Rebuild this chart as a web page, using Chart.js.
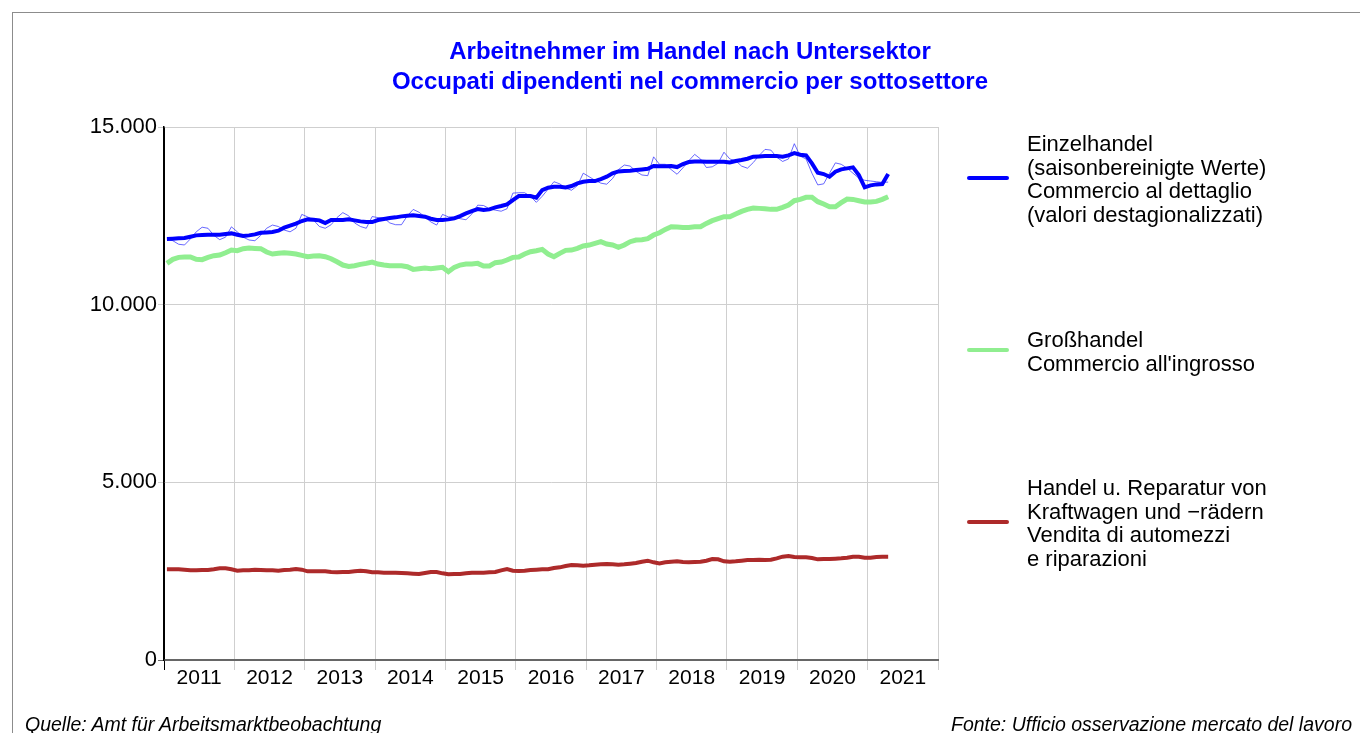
<!DOCTYPE html>
<html>
<head>
<meta charset="utf-8">
<script src="https://cdn.jsdelivr.net/npm/chart.js@4.4.1/dist/chart.umd.min.js"></script>
<style>
  html, body { margin: 0; padding: 0; background: #fff; overflow: hidden; }
  body { width: 1360px; height: 733px; position: relative; font-family: "Liberation Sans", Arial, sans-serif; }
  #frame { position: absolute; left: 12px; top: 12px; width: 1400px; height: 800px; border: 1px solid #8c8c8c; }
  #chart { position: absolute; left: 0; top: 0; }
  .title { position: absolute; left: 290px; width: 800px; text-align: center; color: #0000ff; font-weight: bold; font-size: 24px; line-height: 28px; }
  .legend-item { position: absolute; left: 967px; }
  .legend-item .swatch { position: absolute; left: 0; width: 42px; height: 4px; border-radius: 2px; }
  .legend-item .text { position: absolute; left: 60px; font-size: 22px; line-height: 23.5px; color: #000; white-space: nowrap; }
  .source { position: absolute; top: 713px; font-size: 19.5px; font-style: italic; color: #000; white-space: nowrap; }
</style>
</head>
<body>
<div id="frame"></div>
<canvas id="chart" width="1360" height="733"></canvas>

<div class="title" style="top:37px">Arbeitnehmer im Handel nach Untersektor</div>
<div class="title" style="top:67px">Occupati dipendenti nel commercio per sottosettore</div>

<div class="legend-item" style="top:176px">
  <div class="swatch" style="background:#0000ff"></div>
  <div class="text" style="top:-44px">Einzelhandel<br>(saisonbereinigte Werte)<br>Commercio al dettaglio<br>(valori destagionalizzati)</div>
</div>
<div class="legend-item" style="top:348px">
  <div class="swatch" style="background:#90ee90"></div>
  <div class="text" style="top:-20px">Großhandel<br>Commercio all'ingrosso</div>
</div>
<div class="legend-item" style="top:520px">
  <div class="swatch" style="background:#ad2a2a"></div>
  <div class="text" style="top:-44px">Handel u. Reparatur von<br>Kraftwagen und −rädern<br>Vendita di automezzi<br>e riparazioni</div>
</div>

<div class="source" style="left:25px">Quelle: Amt für Arbeitsmarktbeobachtung</div>
<div class="source" style="right:8px">Fonte: Ufficio osservazione mercato del lavoro</div>

<script>
// Monthly data, January 2011 to April 2021
const startYear = 2011;
const yearLabels = ['2011', '2012', '2013', '2014', '2015', '2016', '2017', '2018', '2019', '2020', '2021'];

// Einzelhandel, seasonally adjusted
const retailAdjusted = [
    11847, 11856, 11866, 11875, 11913, 11950, 11960, 11969, 11969, 11969, 11988, 12006,
    11969, 11931, 11950, 11978, 12025, 12034, 12044, 12081, 12166, 12222, 12279, 12354,
    12400, 12391, 12372, 12297, 12382, 12382, 12382, 12400, 12372, 12344, 12325, 12325,
    12382, 12410, 12438, 12457, 12485, 12504, 12513, 12494, 12475, 12419, 12382, 12382,
    12400, 12429, 12494, 12569, 12635, 12691, 12663, 12682, 12738, 12776, 12823, 12945,
    13057, 13057, 13057, 13010, 13226, 13291, 13320, 13320, 13301, 13338, 13414, 13460,
    13479, 13479, 13535, 13601, 13695, 13751, 13761, 13770, 13789, 13807, 13826, 13901,
    13892, 13892, 13901, 13873, 13958, 14014, 14032, 14032, 14023, 14023, 14023, 14023,
    14004, 14042, 14070, 14107, 14164, 14173, 14183, 14183, 14183, 14164, 14201, 14267,
    14220, 14201, 13976, 13714, 13676, 13601, 13742, 13807, 13836, 13864, 13648, 13301,
    13357, 13385, 13395, 13676
];

// Einzelhandel, raw values (thin line, not in legend)
const retailRaw = [
    11847, 11800, 11700, 11680, 11850, 12050, 12180, 12150, 11950, 11830, 11900, 12190,
    12050, 11900, 11820, 11800, 11950, 12150, 12240, 12200, 12100, 12050, 12150, 12540,
    12470, 12380, 12200, 12150, 12250, 12450, 12590, 12500, 12300, 12200, 12150, 12480,
    12450, 12440, 12300, 12250, 12250, 12500, 12680, 12600, 12470, 12330, 12240, 12540,
    12470, 12470, 12420, 12390, 12550, 12800, 12790, 12700, 12660, 12630, 12700, 13140,
    13150, 13150, 13050, 12880, 13050, 13250, 13460, 13400, 13280, 13220, 13350, 13700,
    13600, 13500, 13420, 13390, 13550, 13800, 13930, 13900, 13750, 13650, 13630, 14160,
    13950, 13950, 13800, 13670, 13850, 14050, 14230, 14100, 13860, 13880, 13980, 14290,
    14100, 14050, 13900, 13840, 14000, 14200, 14370, 14350, 14150, 14030, 14100, 14530,
    14180, 14100, 13700, 13370, 13400, 13700, 13990, 13950, 13840, 13700, 13560, 13500,
    13480, 13460, 13440, 13450
];

// Großhandel
const wholesale = [
    11162, 11275, 11331, 11341, 11341, 11275, 11266, 11331, 11378, 11397, 11462, 11537,
    11519, 11575, 11594, 11584, 11575, 11481, 11425, 11444, 11462, 11444, 11425, 11387,
    11350, 11369, 11378, 11350, 11294, 11209, 11115, 11078, 11097, 11134, 11162, 11200,
    11143, 11115, 11097, 11097, 11097, 11068, 10993, 11012, 11031, 11012, 11031, 11050,
    10928, 11050, 11115, 11143, 11143, 11162, 11087, 11087, 11181, 11200, 11256, 11331,
    11341, 11425, 11491, 11519, 11556, 11425, 11350, 11444, 11528, 11537, 11584, 11650,
    11678, 11725, 11772, 11706, 11678, 11612, 11678, 11772, 11819, 11828, 11856, 11960,
    12025, 12119, 12194, 12184, 12175, 12175, 12194, 12194, 12288, 12363, 12419, 12476,
    12476, 12551, 12626, 12682, 12719, 12710, 12701, 12682, 12682, 12738, 12804, 12926,
    12963, 13020, 13020, 12898, 12832, 12757, 12757, 12870, 12973, 12963, 12926, 12888,
    12888, 12907, 12963, 13038
];

// Handel u. Reparatur von Kraftwagen
const motorVehicles = [
    2552, 2552, 2552, 2542, 2523, 2523, 2533, 2533, 2552, 2580, 2580, 2552,
    2514, 2523, 2523, 2542, 2533, 2523, 2523, 2514, 2533, 2542, 2561, 2542,
    2495, 2495, 2495, 2495, 2477, 2467, 2477, 2477, 2495, 2514, 2495, 2467,
    2467, 2458, 2458, 2458, 2448, 2439, 2430, 2420, 2448, 2477, 2477, 2439,
    2411, 2420, 2420, 2439, 2458, 2458, 2458, 2467, 2477, 2523, 2561, 2514,
    2505, 2514, 2533, 2542, 2552, 2552, 2589, 2608, 2645, 2674, 2664, 2655,
    2664, 2683, 2692, 2702, 2692, 2683, 2692, 2711, 2730, 2767, 2795, 2749,
    2720, 2749, 2767, 2777, 2758, 2749, 2758, 2767, 2795, 2842, 2833, 2777,
    2767, 2777, 2795, 2814, 2814, 2824, 2814, 2824, 2861, 2908, 2927, 2899,
    2889, 2889, 2870, 2833, 2842, 2842, 2852, 2861, 2880, 2908, 2908, 2880,
    2880, 2899, 2908, 2908
];

// Each month sits in the middle of its slot on a year axis
const toPoints = (values) => values.map((v, i) => ({ x: startYear + (i + 0.5) / 12, y: v }));

const firstYear = Number(yearLabels[0]);
const lastYear = Number(yearLabels[yearLabels.length - 1]) + 1;

const formatThousands = (value) => value.toLocaleString('de-DE');

const fontFamily = '"Liberation Sans", Arial, sans-serif';

new Chart(document.getElementById('chart').getContext('2d'), {
    type: 'line',
    data: {
        datasets: [
            {
                label: 'Einzelhandel (saisonbereinigt)',
                data: toPoints(retailAdjusted),
                borderColor: '#0000ff',
                borderWidth: 4,
                pointRadius: 0,
                tension: 0
            },
            {
                label: 'Einzelhandel',
                data: toPoints(retailRaw),
                borderColor: 'rgba(40, 40, 255, 0.7)',
                borderWidth: 1,
                pointRadius: 0,
                tension: 0
            },
            {
                label: 'Großhandel',
                data: toPoints(wholesale),
                borderColor: '#90ee90',
                borderWidth: 5,
                pointRadius: 0,
                tension: 0
            },
            {
                label: 'Kraftwagen',
                data: toPoints(motorVehicles),
                borderColor: '#ad2a2a',
                borderWidth: 4,
                pointRadius: 0,
                tension: 0
            }
        ]
    },
    options: {
        responsive: false,
        animation: false,
        devicePixelRatio: 1,
        layout: { padding: { left: 64, right: 422, top: 127, bottom: 33 } },
        plugins: {
            legend: { display: false },
            title: { display: false },
            tooltip: { enabled: false }
        },
        scales: {
            x: {
                type: 'linear',
                min: firstYear,
                max: lastYear,
                afterFit: (scale) => { scale.height = 40; },
                afterBuildTicks: (scale) => {
                    // year boundaries carry the grid, half years carry the labels
                    const ticks = [];
                    for (let y = firstYear; y <= lastYear; y += 0.5) ticks.push({ value: y });
                    scale.ticks = ticks;
                },
                ticks: {
                    autoSkip: false,
                    maxRotation: 0,
                    padding: -2,
                    color: '#000',
                    font: { family: fontFamily, size: 21, lineHeight: 1 },
                    callback: (value) => {
                        const idx = Math.floor(value) - firstYear;
                        return value % 1 !== 0 && yearLabels[idx] ? yearLabels[idx] : '';
                    }
                },
                grid: {
                    tickLength: 10,
                    color: (ctx) => {
                        const v = ctx.tick ? ctx.tick.value : null;
                        if (v === firstYear) return '#000';
                        return v !== null && v % 1 === 0 ? '#cfcfcf' : 'rgba(0,0,0,0)';
                    }
                },
                border: { color: '#666', width: 2 }
            },
            y: {
                min: 0,
                max: 15000,
                afterFit: (scale) => { scale.width = 100; },
                ticks: {
                    stepSize: 5000,
                    padding: 1,
                    color: '#000',
                    font: { family: fontFamily, size: 22, lineHeight: 1 },
                    callback: (value) => formatThousands(value)
                },
                grid: {
                    tickLength: 6,
                    color: (ctx) => (ctx.tick && ctx.tick.value === 0 ? '#666' : '#cfcfcf')
                },
                border: { color: '#000', width: 1.5 }
            }
        }
    }
});
</script>
</body>
</html>
